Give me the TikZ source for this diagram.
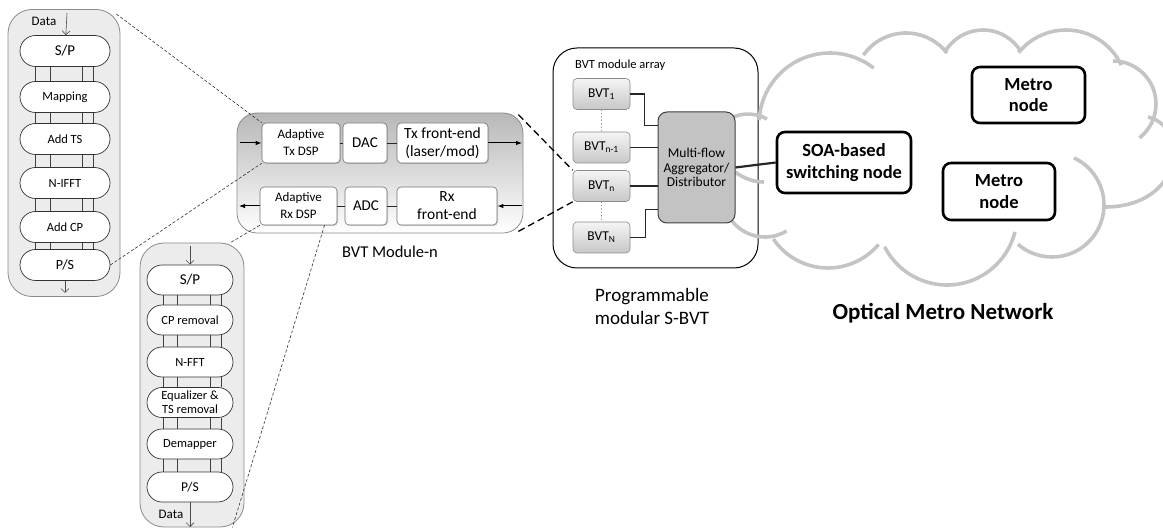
\documentclass[tikz,border=0pt]{standalone}
\usepackage{fontspec}
\setmainfont{Carlito}
\usetikzlibrary{arrows.meta,positioning,shapes.misc,shadows}

\definecolor{colfill}{HTML}{ECECEC}
\definecolor{colline}{HTML}{8A8A8A}
\definecolor{cloudgray}{HTML}{C4C4C4}
\definecolor{aggfill}{HTML}{C3C3C3}

\tikzset{
  colbox/.style={draw=colline, fill=colfill, line width=0.8pt, rounded corners=24pt, inner sep=0pt},
  ofdmblk/.style={rounded rectangle, draw=black!80, fill=white, line width=0.7pt, minimum width=90pt, minimum height=31pt, inner sep=0pt, align=center},
  busline/.style={draw=black!75, line width=0.6pt},
  dataarrow/.style={draw=black!70, line width=0.6pt, -{Straight Barb[length=4pt,width=8pt]}},
  modframe/.style={draw=black!45, line width=0.8pt, rounded corners=20pt, top color=black!28, bottom color=white, inner sep=0pt},
  modblk/.style={draw=black!55, fill=white, line width=0.6pt, rounded corners=4pt, inner sep=0pt, align=center, minimum height=40pt, drop shadow={opacity=0.3, shadow xshift=1pt, shadow yshift=-1pt}, font=\fontsize{13}{17}\selectfont},
  sigarrow/.style={line width=1pt, -{Latex[length=6pt,width=4.5pt]}},
  arrframe/.style={draw=black, line width=1pt, fill=white, rounded corners=24pt, inner sep=0pt},
  bvtblk/.style={draw=black!45, line width=0.6pt, rounded corners=4pt, top color=black!4, bottom color=black!22, minimum width=57pt, minimum height=31pt, inner sep=0pt, font=\fontsize{13.5}{15}\selectfont},
  aggblk/.style={draw=black!75, line width=1pt, fill=aggfill, rounded corners=9pt, minimum width=77pt, minimum height=111pt, align=center, inner sep=0pt, font=\fontsize{13.5}{14.5}\selectfont},
  netnode/.style={draw=black, line width=2.6pt, rounded corners=8pt, fill=white, align=center, inner sep=0pt, font=\bfseries\fontsize{18.5}{21.5}\selectfont},
  zoomline/.style={draw=black!80, line width=0.6pt, dash pattern=on 3pt off 2pt},
  arrzoom/.style={draw=black, line width=1.3pt, dash pattern=on 7pt off 4pt},
  cloudline/.style={draw=cloudgray, line width=3.6pt},
  link/.style={draw=black!85, line width=1.1pt},
  dotline/.style={draw=black!40, line width=0.8pt, dash pattern=on 0.8pt off 2.6pt, line cap=round}
}

\begin{document}
\begin{tikzpicture}[x=1pt, y=-1pt]
    \useasboundingbox (0,0) rectangle (1163,529);

    % Tx OFDM chain
    \node[colbox, minimum width=112pt, minimum height=287pt] (txcol) at (64,153) {};
    \foreach \nm/\txt/\yy/\fs in {txsp/{S/P}/51/15, txmap/Mapping/97/12.5, txts/Add TS/139/12.5,
        txifft/N-IFFT/183/12.5, txcp/Add CP/227/12.5, txps/{P/S}/265/14} {
        \node[ofdmblk, font=\fontsize{\fs}{\fs}\selectfont] (\nm) at (65,\yy) {\txt};
    }
    \foreach \up/\dn in {txsp/txmap, txmap/txts, txts/txifft, txifft/txcp, txcp/txps} {
        \foreach \dx in {-30,-15,17,28} {
            \draw[busline] ([xshift=\dx pt]\up.south) -- ([xshift=\dx pt]\dn.north);
        }
    }
    \node[font=\fontsize{13}{15}\selectfont] (txdata) at (44,21) {Data};
    \coordinate (txdin) at (67,13);
    \coordinate (txdout) at (65,293);
    \draw[dataarrow] (txdin) -- (txsp);
    \draw[dataarrow] (txps) -- (txdout);

    % Rx OFDM chain
    \node[colbox, minimum width=104pt, minimum height=284pt] (rxcol) at (192,385) {};
    \foreach \nm/\txt/\yy/\fs in {rxsp/{S/P}/280/15, rxcpr/CP removal/320/12.5, rxfft/N-FFT/362/12.5,
        rxeq/{Equalizer \&\\TS removal}/402.5/12.5, rxdem/Demapper/444/12.5, rxps/{P/S}/487/13.5} {
        \node[ofdmblk, minimum width=86pt, minimum height=30pt, font=\fontsize{\fs}{14}\selectfont] (\nm) at (190,\yy) {\txt};
    }
    \foreach \up/\dn in {rxsp/rxcpr, rxcpr/rxfft, rxfft/rxeq, rxeq/rxdem, rxdem/rxps} {
        \foreach \dx in {-27,-13,20,31} {
            \draw[busline] ([xshift=\dx pt]\up.south) -- ([xshift=\dx pt]\dn.north);
        }
    }
    \node[font=\fontsize{13}{15}\selectfont] (rxdata) at (171,514) {Data};
    \coordinate (rxdin) at (190,246);
    \coordinate (rxdout) at (190,527);
    \draw[dataarrow] (rxdin) -- (rxsp);
    \draw[dataarrow] (rxps) -- (rxdout);

    % BVT module
    \node[modframe, minimum width=286pt, minimum height=120pt] (bvtmod) at (380,173) {};
    \node[modblk, minimum width=78pt] (txdsp) at (301,143) {Adaptive\\Tx DSP};
    \node[modblk, minimum width=44pt, font=\fontsize{15}{17}\selectfont] (dac) at (365,143) {DAC};
    \node[modblk, minimum width=91pt, font=\fontsize{15.5}{18}\selectfont] (txfe) at (442.5,143) {Tx front-end\\(laser/mod)};
    \node[modblk, minimum width=77pt, minimum height=38pt] (rxdsp) at (298.5,206) {Adaptive\\Rx DSP};
    \node[modblk, minimum width=42pt, minimum height=38pt, font=\fontsize{15}{17}\selectfont] (adc) at (366,206) {ADC};
    \node[modblk, minimum width=100pt, minimum height=38pt, font=\fontsize{15.5}{18}\selectfont] (rxfe) at (447,206) {Rx\\front-end};
    \draw[link, line width=0.8pt] (txdsp) -- (dac);
    \draw[link, line width=0.8pt] (dac) -- (txfe);
    \draw[link, line width=0.8pt] (rxdsp) -- (adc);
    \draw[link, line width=0.8pt] (adc) -- (rxfe);
    \coordinate (txin) at (240,143);
    \coordinate (txout) at (522,143);
    \coordinate (rxin) at (522,206);
    \coordinate (rxout) at (239,206);
    \draw[sigarrow] (txin) -- (txdsp);
    \draw[sigarrow] (txfe) -- (txout);
    \draw[sigarrow] (rxin) -- (rxfe);
    \draw[sigarrow] (rxdsp) -- (rxout);
    \node[font=\fontsize{16.5}{18}\selectfont] (modlabel) at (390,252) {BVT Module-n};

    % S-BVT module array
    \node[arrframe, minimum width=205pt, minimum height=220pt] (bvtarr) at (655.5,158) {};
    \node[anchor=west, inner sep=0pt, font=\fontsize{12.5}{14}\selectfont] (arrlabel) at (575,65) {BVT module array};

    % Cloud of the metro network
    \foreach \cx/\cy/\r/\aa/\ab in {830/124/71/183/308, 906/85/52/215/322, 983/74/44/210/329,
        1066/91/61/219/335, 1113/104/43/270/412, 1052/205/52/-65/131, 947/215/70/14/153,
        828/202/66/146/40, 765/195/42/59/175, 748/152/38/230/300} {
        \draw[cloudline] (\cx,\cy) ++(\aa:\r) arc[start angle=\aa, end angle=\ab, radius=\r];
    }
    \draw[cloudline] (1148,117) .. controls (1192,128) and (1182,207) .. (1105,207);
    \draw[cloudline] (735,172) .. controls (745,179) and (754,182) .. (764,182);

    \foreach \nm/\sub/\yy in {bvt1/1/94, bvtnm/{n-1}/147.5, bvtn/n/186, bvtN/N/237.5} {
        \node[bvtblk] (\nm) at (601.5,\yy) {BVT\textsubscript{\sub}};
    }
    \draw[dotline] (bvt1) -- (bvtnm);
    \draw[dotline] (bvtn) -- (bvtN);
    \node[aggblk] (agg) at (696.5,167.5) {Multi-flow\\Aggregator/\\Distributor};
    \draw[link] (bvt1.east) -- ++(14,0) |- ([yshift=42pt]agg.west);
    \draw[link] (bvtnm.east) -- (bvtnm.east -| agg.west);
    \draw[link] (bvtn.east) -- (bvtn.east -| agg.west);
    \draw[link] (bvtN.east) -- ++(15,0) |- ([yshift=-42pt]agg.west);
    \node[align=center, font=\fontsize{19}{23}\selectfont] (sbvtlabel) at (652,306) {Programmable\\modular S-BVT};

    % Network nodes
    \node[netnode, minimum width=134pt, minimum height=61pt] (soa) at (844,162.5) {SOA-based\\switching node};
    \node[netnode, minimum width=113pt, minimum height=56pt] (metroa) at (1028.5,95) {Metro\\node};
    \node[netnode, minimum width=112pt, minimum height=57pt] (metrob) at (999,191.5) {Metro\\node};
    \draw[link, line width=2.2pt] (agg.east) -- (soa.west);
    \node[font=\bfseries\fontsize{23}{26}\selectfont] (netlabel) at (943,313) {Optical Metro Network};

    % Zoom lines
    \draw[zoomline] ([xshift=-4pt,yshift=-5pt]txcol.north east) -- (txdsp.north west);
    \draw[zoomline] (txps.east) -- (txdsp.south west);
    \draw[zoomline] (rxdsp.south west) -- ([xshift=-14pt]rxcol.north east);
    \draw[zoomline] ([xshift=26pt]rxdsp.south) -- ([xshift=-12pt]rxcol.south east);
    \draw[arrzoom] ([xshift=-5pt,yshift=-2pt]bvtmod.north east) -- (bvtn.north west);
    \draw[arrzoom] ([xshift=-5pt,yshift=2pt]bvtmod.south east) -- (bvtn.south west);
\end{tikzpicture}
\end{document}
